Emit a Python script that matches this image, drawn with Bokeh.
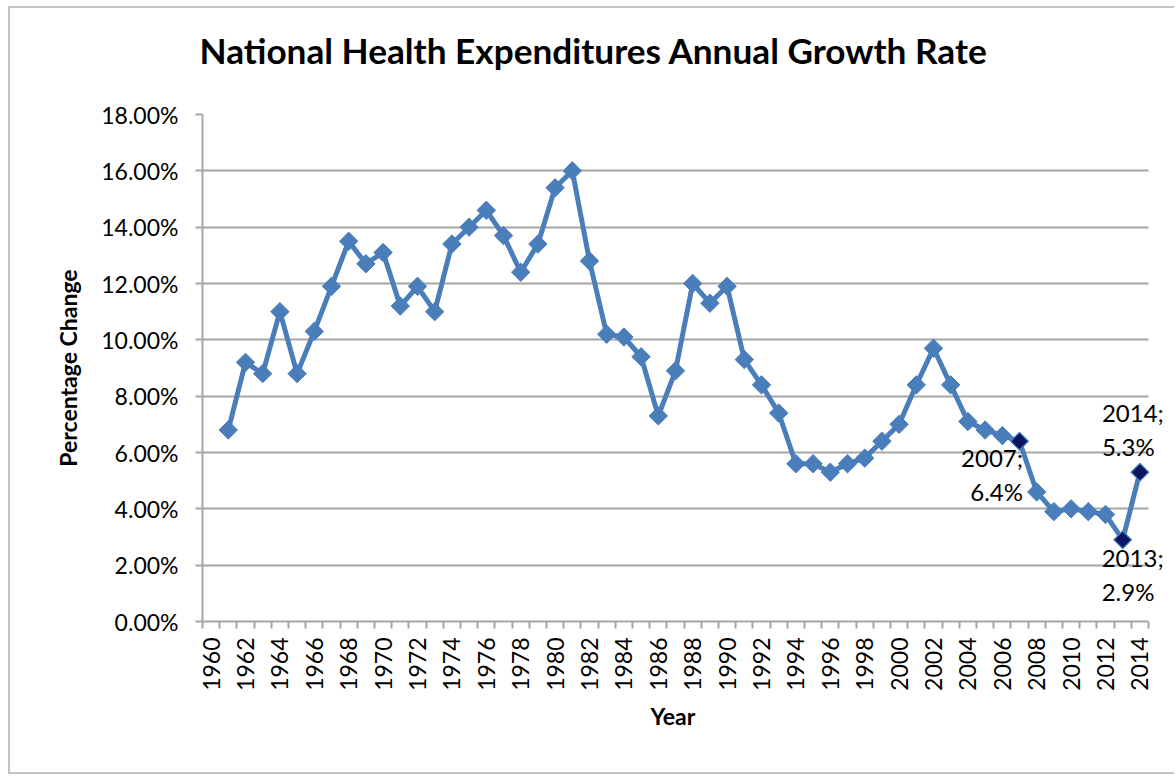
import numpy as np
from bokeh.plotting import figure
from bokeh.models import Range1d, FixedTicker, PrintfTickFormatter, Label, Title, Grid, BoxAnnotation
from bokeh.embed import file_html
from bokeh.resources import INLINE

# Annual growth rate of national health expenditures, percent
years = list(range(1961, 2015))
growth = [
    6.8, 9.2, 8.8, 11.0, 8.8, 10.3, 11.9, 13.5, 12.7, 13.1,   # 1961-1970
    11.2, 11.9, 11.0, 13.4, 14.0, 14.6, 13.7, 12.4, 13.4, 15.4,  # 1971-1980
    16.0, 12.8, 10.2, 10.1, 9.4, 7.3, 8.9, 12.0, 11.3, 11.9,   # 1981-1990
    9.3, 8.4, 7.4, 5.6, 5.6, 5.3, 5.6, 5.8, 6.4, 7.0,          # 1991-2000
    8.4, 9.7, 8.4, 7.1, 6.8, 6.6, 6.4, 4.6, 3.9, 4.0,          # 2001-2010
    3.9, 3.8, 2.9, 5.3,                                        # 2011-2014
]
highlight_years = [2007, 2013, 2014]

x_tick_years = list(range(1960, 2015, 2))
x_categories = list(range(1960, 2015))
y_ticks = [0, 2, 4, 6, 8, 10, 12, 14, 16, 18]

FONT = "Lato"
BLUE = "#4A7EBB"
NAVY = "#0B1560"
GRID = "#a6a6a6"

# Axis extent (category boundaries); the frame runs a little further right so
# the data labels of the last years have room.
x_lo = x_categories[0] - 0.5
x_hi = x_categories[-1] + 0.5
AXIS_PX = 946                       # pixel length of the category axis
px_per_year = AXIS_PX / (x_hi - x_lo)
EXTRA_PX = 28

p = figure(
    width=1166, height=768,
    x_range=Range1d(x_lo, x_hi + EXTRA_PX / px_per_year),
    y_range=Range1d(y_ticks[0], y_ticks[-1]),
    output_backend="svg", toolbar_location=None,
    min_border_left=192, min_border_right=0,
    min_border_top=106, min_border_bottom=155,
)
p.styles = {
    "margin-left": "8px", "margin-top": "6px",
    "border-left": "2px solid #c4c4c4",
    "border-top": "2px solid #c4c4c4",
    "border-bottom": "2px solid #c4c4c4",
}
p.outline_line_color = None
p.background_fill_color = "white"
p.border_fill_color = "white"
p.title.text = ""

# Gap between the plot area and the chart title
p.add_layout(Title(text=" ", text_font_size="1px", standoff=36), "above")

# Chart title
p.add_layout(Title(text="National Health Expenditures Annual Growth Rate",
                   text_font=FONT, text_font_size="35.2px", text_font_style="bold",
                   text_color="black", align="left", offset=-3, standoff=10),
             "above")

# Grid
p.xgrid.visible = False
p.ygrid.ticker = FixedTicker(ticks=y_ticks)
p.ygrid.grid_line_color = GRID
p.ygrid.grid_line_width = 2
if "cross_bounds" in Grid.properties():
    p.ygrid.cross_bounds = (x_lo, x_hi)
else:
    p.add_layout(BoxAnnotation(left=x_hi, fill_color="white", fill_alpha=1,
                               line_color=None, level="underlay"))

# Y axis
ya = p.yaxis[0]
ya.ticker = FixedTicker(ticks=y_ticks)
ya.formatter = PrintfTickFormatter(format="%.2f%%")
ya.axis_line_color = GRID
ya.axis_line_width = 2
ya.major_tick_line_color = GRID
ya.major_tick_line_width = 2
ya.major_tick_out = 7
ya.major_tick_in = 0
ya.minor_tick_line_color = None
ya.major_label_text_font = FONT
ya.major_label_text_font_size = "23px"
ya.major_label_text_color = "black"
ya.major_label_standoff = 17
ya.axis_label = "Percentage Change"
ya.axis_label_text_font = FONT
ya.axis_label_text_font_size = "23px"
ya.axis_label_text_font_style = "bold"
ya.axis_label_text_color = "black"
ya.axis_label_standoff = 16

# X axis: labels centred on every other year, ticks on year boundaries
xa = p.xaxis[0]
xa.bounds = (x_lo, x_hi)
xa.ticker = FixedTicker(ticks=x_tick_years,
                        minor_ticks=[y - 0.5 for y in x_categories + [x_categories[-1] + 1]])
xa.formatter = PrintfTickFormatter(format="%d")
xa.major_label_orientation = np.pi / 2
xa.axis_line_color = GRID
xa.axis_line_width = 2
xa.major_tick_line_color = None
xa.major_tick_out = 7
xa.major_tick_in = 0
xa.minor_tick_line_color = GRID
xa.minor_tick_line_width = 2
xa.minor_tick_out = 7
xa.minor_tick_in = 0
xa.major_label_text_font = FONT
xa.major_label_text_font_size = "23px"
xa.major_label_text_color = "black"
xa.major_label_standoff = 9

# X axis title under the category axis
p.add_layout(Title(text="Year", align="left", offset=448, standoff=12,
                   text_font=FONT, text_font_size="23px", text_font_style="bold",
                   text_color="black"), "below")

# Series
p.line(years, growth, line_color=BLUE, line_width=5, line_join="round")
p.scatter(years, growth, marker="square", angle=np.pi / 4, size=13,
          fill_color=BLUE, line_color=BLUE, line_width=1)

hx = [y for y in years if y in highlight_years]
hy = [g for y, g in zip(years, growth) if y in highlight_years]
p.scatter(hx, hy, marker="square", angle=np.pi / 4, size=10.5,
          fill_color=NAVY, line_color=NAVY, line_width=1)

# Data labels for the highlighted years
label_style = {
    2007: dict(text_align="right", x_offset=3.5, y_offset=-1.7),
    2013: dict(text_align="left", x_offset=-21, y_offset=-3.1),
    2014: dict(text_align="left", x_offset=-38, y_offset=74.3),
}
for yr, val in zip(hx, hy):
    p.add_layout(Label(x=yr, y=val, text=f"{yr};\n{val:.1f}%",
                       text_font=FONT, text_font_size="24px", text_color="black",
                       text_baseline="top", text_line_height=1.17,
                       **label_style[yr]))

open("out.html", "w").write(file_html(p, INLINE))
